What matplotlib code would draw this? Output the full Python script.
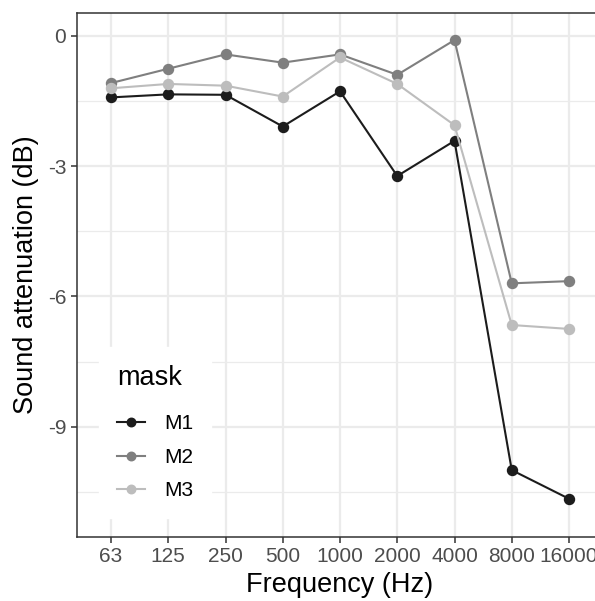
"""
Sound attenuation by mask across octave bands (ggplot theme_bw look-alike).
"""
import matplotlib
matplotlib.use("Agg")
import matplotlib.pyplot as plt
import numpy as np

plt.rcParams["font.family"] = ["Liberation Sans", "DejaVu Sans"]

freqs = ["63", "125", "250", "500", "1000", "2000", "4000", "8000", "16000"]
masks = ["M1", "M2", "M3"]
m1 = [-1.42, -1.35, -1.36, -2.09, -1.28, -3.23, -2.42, -10.00, -10.66]
m2 = [-1.09, -0.76, -0.43, -0.62, -0.43, -0.90, -0.10, -5.70, -5.65]
m3 = [-1.21, -1.11, -1.15, -1.40, -0.50, -1.11, -2.06, -6.66, -6.75]
colors = ["#1c1c1c", "#7f7f7f", "#bdbdbd"]

W, H = 595, 601
fig = plt.figure(figsize=(W / 100, H / 100), dpi=100)
# panel runs past the right edge, as in the cropped original
left, right, top, bottom = 76.65, 603.35, 12.7, 537.0
ax = fig.add_axes([left / W, (H - bottom) / H, (right - left) / W, (bottom - top) / H])

x = np.arange(len(freqs))
for vals, name, c in zip([m1, m2, m3], masks, colors):
    ax.plot(x, vals, color=c, lw=1.5, marker="o", ms=7.2, mec=c, mfc=c, label=name, zorder=3)

ax.set_xlim(-0.6, len(freqs) - 1 + 0.6)
ax.set_ylim(-11.54, 0.53)
ax.set_xticks(x)
ax.set_xticklabels(freqs)
ax.set_yticks([0, -3, -6, -9])
ax.set_yticklabels(["0", "-3", "-6", "-9"])
ax.set_yticks([-1.5, -4.5, -7.5, -10.5], minor=True)

ax.grid(True, which="major", color="#ebebeb", lw=1.6, zorder=0)
ax.grid(True, which="minor", axis="y", color="#ebebeb", lw=0.9, zorder=0)
ax.set_axisbelow(True)
for s in ax.spines.values():
    s.set_color("#333333")
    s.set_linewidth(1.1)

ax.tick_params(which="major", length=4.5, width=1.1, color="#333333",
               labelcolor="#4d4d4d", labelsize=15, pad=3)
ax.tick_params(which="minor", length=0)

ax.set_xlabel("Frequency (Hz)", fontsize=19.5, color="black", labelpad=4)
ax.set_ylabel("Sound attenuation (dB)", fontsize=19.5, color="black", labelpad=6)

leg = ax.legend(title="mask", loc="lower left", bbox_to_anchor=(0.043, 0.036),
                borderaxespad=0, frameon=True, fancybox=False, edgecolor="white",
                facecolor="white", framealpha=1, fontsize=15, title_fontsize=19.5,
                handlelength=1.35, handletextpad=0.9, labelspacing=0.7,
                borderpad=0.85, markerscale=0.85)
leg._legend_box.align = "left"
leg._legend_box.sep = 17  # extra room between title and keys, like ggplot

fig.savefig("out.png", dpi=100)
